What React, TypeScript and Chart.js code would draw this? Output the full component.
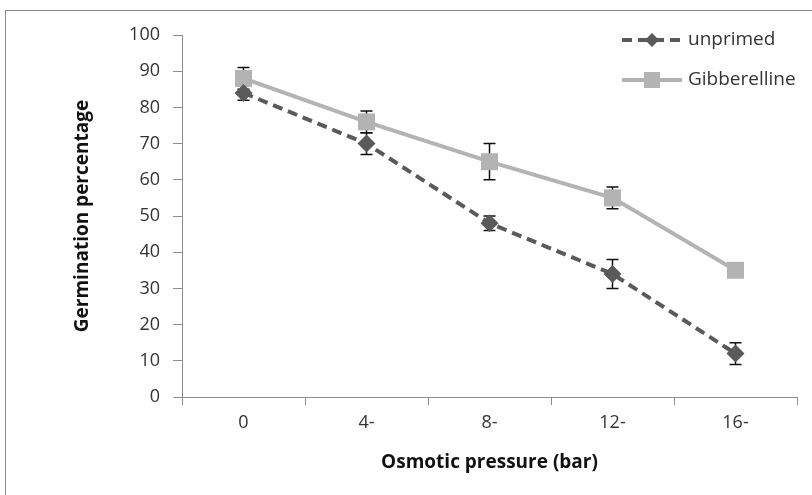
import React, { useEffect, useRef } from "react";
import { Chart, registerables } from "chart.js";

Chart.register(...registerables);

const categories = ["0", "4-", "8-", "12-", "16-"];
const unprimed = [84, 70, 48, 34, 12];
const unprimedLow = [82, 67, 46, 30, 9];
const unprimedHigh = [86, 73, 50, 38, 15];
const gibberelline = [88, 76, 65, 55, 35];
const gibLow = [85, 73, 60, 52, 35];
const gibHigh = [91, 79, 70, 58, 35];
const yTicks = [0, 10, 20, 30, 40, 50, 60, 70, 80, 90, 100];

const DARK = "#5a5a5a";
const LIGHT = "#b3b3b3";
const AXIS = "#8c8c8c";
const TEXT = "#333333";
const FONT = '"Open Sans", sans-serif';

const errorBars = {
  id: "errorBars",
  beforeDatasetsDraw(chart: any) {
    const { ctx, scales } = chart;
    const sets = [
      [unprimedLow, unprimedHigh],
      [gibLow, gibHigh],
    ];
    ctx.save();
    ctx.strokeStyle = "#111";
    ctx.lineWidth = 1.5;
    sets.forEach(([lo, hi]) => {
      categories.forEach((_, i) => {
        if (lo[i] === hi[i]) return;
        const x = scales.x.getPixelForValue(i);
        const y1 = scales.y.getPixelForValue(lo[i]);
        const y2 = scales.y.getPixelForValue(hi[i]);
        ctx.beginPath();
        ctx.moveTo(x, y1);
        ctx.lineTo(x, y2);
        ctx.moveTo(x - 6, y1);
        ctx.lineTo(x + 6, y1);
        ctx.moveTo(x - 6, y2);
        ctx.lineTo(x + 6, y2);
        ctx.stroke();
      });
    });
    ctx.restore();
  },
};

const frameAndLegend = {
  id: "frameAndLegend",
  beforeDraw(chart: any) {
    const { ctx } = chart;
    ctx.save();
    ctx.strokeStyle = "#8a8a8a";
    ctx.lineWidth = 1;
    ctx.strokeRect(5.5, 10.5, 1000, 1000);
    ctx.restore();
  },
  afterDraw(chart: any) {
    const { ctx } = chart;
    ctx.save();
    const entries = [
      { label: "unprimed", color: DARK, dash: [10, 6], style: "diamond", y: 40 },
      { label: "Gibberelline", color: LIGHT, dash: [], style: "square", y: 80 },
    ];
    entries.forEach((e) => {
      ctx.strokeStyle = e.color;
      ctx.lineWidth = 4;
      ctx.setLineDash(e.dash);
      ctx.beginPath();
      ctx.moveTo(622, e.y);
      ctx.lineTo(682, e.y);
      ctx.stroke();
      ctx.setLineDash([]);
      ctx.fillStyle = e.color;
      ctx.beginPath();
      if (e.style === "diamond") {
        ctx.moveTo(652, e.y - 7);
        ctx.lineTo(659, e.y);
        ctx.lineTo(652, e.y + 7);
        ctx.lineTo(645, e.y);
      } else {
        ctx.rect(644, e.y - 8, 16, 16);
      }
      ctx.closePath();
      ctx.fill();
      ctx.fillStyle = TEXT;
      ctx.font = `19px ${FONT}`;
      ctx.textBaseline = "middle";
      ctx.textAlign = "left";
      ctx.fillText(e.label, 688, e.y);
    });
    ctx.restore();
  },
};

export default function App() {
  const ref = useRef<HTMLCanvasElement>(null);
  useEffect(() => {
    document.body.style.margin = "0";
    const chart = new Chart(ref.current!, {
      type: "line",
      data: {
        labels: categories,
        datasets: [
          {
            label: "unprimed",
            data: unprimed,
            borderColor: DARK,
            backgroundColor: DARK,
            borderWidth: 4,
            borderDash: [10, 6],
            pointStyle: "rectRot",
            pointRadius: 9,
            pointBorderWidth: 0,
            tension: 0,
          },
          {
            label: "Gibberelline",
            data: gibberelline,
            borderColor: LIGHT,
            backgroundColor: LIGHT,
            borderWidth: 4,
            pointStyle: "rect",
            pointRadius: 12,
            pointBorderWidth: 0,
            tension: 0,
          },
        ],
      },
      options: {
        animation: false,
        responsive: false,
        layout: { padding: { left: 0, top: 35, right: 15, bottom: 0 } },
        plugins: { legend: { display: false }, tooltip: { enabled: false } },
        scales: {
          x: {
            offset: true,
            grid: { offset: true, drawOnChartArea: false, color: AXIS, tickLength: 8 },
            border: { color: AXIS, width: 1 },
            ticks: { color: TEXT, font: { family: FONT, size: 18 }, padding: 7 },
            title: {
              display: true,
              text: "Osmotic pressure (bar)",
              color: "#111",
              font: { family: FONT, size: 19, weight: "bold" },
              padding: { top: 0, bottom: 21 },
            },
            afterFit: (s: any) => {
              s.height = 98;
            },
          },
          y: {
            min: 0,
            max: 100,
            afterBuildTicks: (s: any) => {
              s.ticks = yTicks.map((v) => ({ value: v }));
            },
            grid: { drawOnChartArea: false, color: AXIS, tickLength: 9 },
            border: { color: AXIS, width: 1 },
            ticks: { color: TEXT, font: { family: FONT, size: 18 }, padding: 13 },
            title: {
              display: true,
              text: "Germination percentage",
              color: "#111",
              font: { family: FONT, size: 19, weight: "bold" },
              padding: { top: 71, bottom: 0 },
            },
            afterFit: (s: any) => {
              s.width = 182;
            },
          },
        },
      },
      plugins: [errorBars, frameAndLegend],
    });
    return () => chart.destroy();
  }, []);
  return (
    <div style={{ width: 812, height: 495, background: "#fff" }}>
      <canvas ref={ref} width={812} height={495} style={{ display: "block" }} />
    </div>
  );
}
